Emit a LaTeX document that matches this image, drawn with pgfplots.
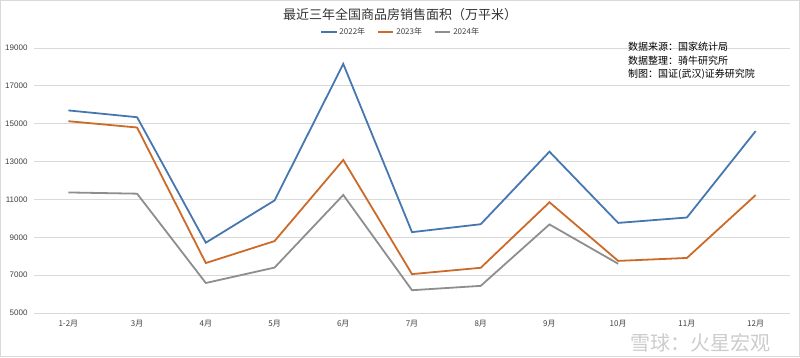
\documentclass[border=0pt]{standalone}
\usepackage{pgfplots}
\pgfplotsset{compat=1.18}
\usepackage{fontspec}
\setmainfont{Liberation Sans}
\newfontfamily\cjk{Noto Sans CJK SC}
\definecolor{c22}{HTML}{4677B0}
\definecolor{c23}{HTML}{CC6A2A}
\definecolor{c24}{HTML}{8E8E8E}
\definecolor{gridc}{HTML}{D9D9D9}
\begin{document}
\begin{tikzpicture}[x=1pt,y=1pt]
\useasboundingbox (0,0) rectangle (800,357);
\draw[gridc,line width=1pt] (0.5,0.5) rectangle (799.5,356.5);
\begin{axis}[
  at={(34pt,44pt)}, anchor=south west,
  width=756pt, height=265pt, scale only axis,
  xmin=-0.5, xmax=10.5, ymin=5000, ymax=19000,
  ytick={5000,7000,...,19000},
  scaled y ticks=false,
  xtick={0,...,10},
  xticklabels={1-2月,3月,4月,5月,6月,7月,8月,9月,10月,11月,12月},
  xticklabel style={font=\cjk\fontsize{8}{9}\selectfont, text=black!75},
  yticklabel style={font=\fontsize{8}{9}\selectfont, text=black!75},
  /pgf/number format/assume math mode=true,
  /pgf/number format/1000 sep={},
  axis line style={draw=none},
  ymajorgrids, grid style={gridc, line width=1pt},
  major tick length=0pt,
  xticklabel shift=4pt, yticklabel shift=3pt,
  clip=false,
  legend style={at={(0.485,1.0)}, anchor=south, yshift=8pt, draw=none, fill=none,
    font=\cjk\fontsize{8}{9}\selectfont, text=black!75, legend columns=3,
    /tikz/every even column/.append style={column sep=10pt}},
  legend image post style={xscale=0.9},
]
\addplot[c22, line width=1.8pt] coordinates {(0,15703) (1,15343) (2,8714) (3,10947) (4,18158) (5,9272) (6,9690) (7,13523) (8,9760) (9,10045) (10,14610)};
\addplot[c23, line width=1.8pt] coordinates {(0,15133) (1,14800) (2,7639) (3,8799) (4,13083) (5,7055) (6,7389) (7,10850) (8,7753) (9,7908) (10,11230)};
\addplot[c24, line width=1.8pt] coordinates {(0,11369) (1,11304) (2,6585) (3,7400) (4,11236) (5,6204) (6,6434) (7,9680) (8,7600)};
\legend{2022年,2023年,2024年}
\end{axis}
\node[font=\cjk\fontsize{13}{15}\selectfont, text=black!80] at (400,342) {最近三年全国商品房销售面积（万平米）};
\node[anchor=north west, align=left, font=\cjk\fontsize{10}{13.5}\selectfont, inner sep=0pt] at (628,315) {数据来源：国家统计局\\数据整理：骑牛研究所\\制图：国证(武汉)证券研究院};
\node[anchor=west, font=\cjk\fontsize{20}{22}\selectfont, text=black!25, opacity=0.8, inner sep=0pt] at (630,14) {雪球：火星宏观};
\end{tikzpicture}
\end{document}
